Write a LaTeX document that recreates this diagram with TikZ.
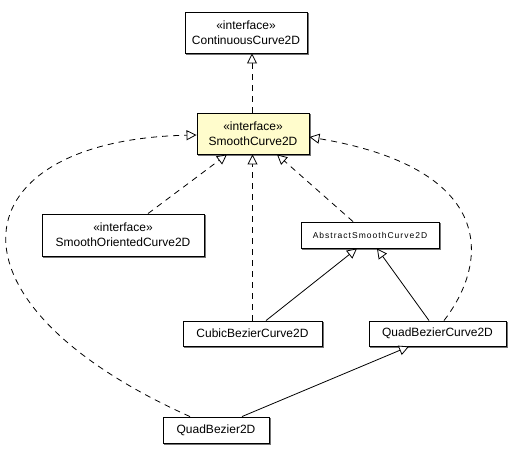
\documentclass[tikz,border=0pt]{standalone}
\usepackage{fontspec}
\setmainfont{Liberation Sans}
\usetikzlibrary{arrows.meta,calc}
\newcommand{\boxshadow}[1]{\draw[black!55,line width=1pt] ($(#1.north east)+(1,1.5)$) -- ($(#1.south east)+(1,1)$) -- ($(#1.south west)+(1.5,1)$);}
\begin{document}
\begin{tikzpicture}[x=1pt,y=-1pt,
  cls/.style={draw=black,line width=0.9pt,fill=white,inner sep=0pt,align=center,
    font=\fontsize{12}{15}\selectfont},
  hl/.style={fill=yellow!20},
  real/.style={line width=0.8pt,-{Triangle[open,length=10pt,width=10pt,fill=white]}},
  impl/.style={real,dash pattern=on 6pt off 5pt}]
\useasboundingbox (0,0) rectangle (522,459);
\fill[white] (0,0) rectangle (522,459);
\node[cls,minimum width=122pt,minimum height=41pt] (cc) at (246,32.5) {«interface»\\ContinuousCurve2D};
\node[cls,hl,minimum width=112pt,minimum height=41pt] (sc) at (253,133.5) {«interface»\\SmoothCurve2D};
\node[cls,minimum width=162pt,minimum height=42pt] (soc) at (123,235) {«interface»\\SmoothOrientedCurve2D};
\node[cls,minimum width=138pt,minimum height=26pt,font=\fontsize{8.5}{10}\selectfont\addfontfeature{LetterSpace=12}] (asc) at (370,235) {AbstractSmoothCurve2D};
\node[cls,minimum width=139pt,minimum height=25pt] (cbc) at (252.5,333.5) {CubicBezierCurve2D};
\node[cls,minimum width=137pt,minimum height=25pt] (qbc) at (437.5,333.5) {QuadBezierCurve2D};
\node[cls,minimum width=106pt,minimum height=26pt] (qb) at (216,430) {QuadBezier2D};
\foreach \n in {cc,sc,soc,asc,cbc,qbc,qb} {\boxshadow{\n}}
\coordinate (a1) at ($(sc.north)+(-1,0)$);
\draw[impl] (a1) -- (a1 |- cc.south);
\draw[impl] ($(soc.north)+(25,0)$) -- ($(sc.south)+(-26,0)$);
\draw[impl] (cbc.north) -- (cbc.north |- sc.south);
\draw[impl] ($(asc.north)+(-17,0)$) -- ($(sc.south)+(24,0)$);
\draw[real] ($(cbc.north)+(13.5,0)$) -- ($(asc.south)+(-13,0)$);
\draw[real] ($(qbc.north)+(-8.5,0)$) -- ($(asc.south)+(7,0)$);
\draw[real] ($(qb.north)+(26,0)$) -- ($(qbc.south)+(-28.5,0)$);
\draw[impl] ($(qbc.north)+(6.5,0)$) .. controls (492,258) and (492,168) .. ($(sc.east)+(0,3.5)$);
\draw[impl] ($(qb.north)+(-26,0)$) .. controls (-70,300) and (-40,140) .. ($(sc.west)+(0,1.5)$);
\end{tikzpicture}
\end{document}
